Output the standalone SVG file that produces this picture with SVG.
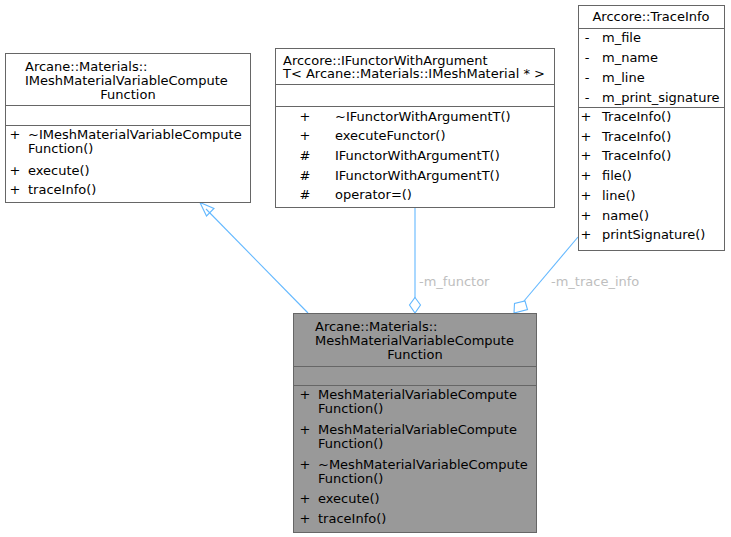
<svg xmlns="http://www.w3.org/2000/svg" width="731" height="537" viewBox="0 0 731 537">
<style>
text{font-family:"DejaVu Sans","Liberation Sans",sans-serif;font-size:13px;fill:#000}
.box{fill:#fff;stroke:#666;stroke-width:1}
.main{fill:#999;stroke:#666;stroke-width:1}
.div{stroke:#666;stroke-width:1}
.c{text-anchor:middle}
.edge{fill:none;stroke:#63b8ff;stroke-width:1.1}
.lbl{fill:#bebebe}
</style>
<rect width="731" height="537" fill="#fff"/>
<g id="connectors">
<path class="edge" d="M308,313 L206,209"/>
<polygon class="edge" points="200,202.5 214,208.5 206.5,216"/>
<path class="edge" d="M415,208 L415,298"/>
<polygon class="edge" points="415,297.5 420.5,305 415,313 409.5,305"/>
<text class="lbl" x="419" y="285.5">-m_functor</text>
<path class="edge" d="M578,237 L524,301"/>
<polygon class="edge" points="514,313 514.5,303.5 525,301 527.5,309.5"/>
<text class="lbl" x="551" y="285.5">-m_trace_info</text>
</g>
<g id="node_IMeshMaterialVariableComputeFunction">
<rect class="box" x="5.5" y="53.5" width="245" height="149"/>
<text x="25" y="70.5">Arcane::Materials::</text>
<text x="25" y="84.5">IMeshMaterialVariableCompute</text>
<text class="c" x="128" y="98.5">Function</text>
<line class="div" x1="5.5" y1="105.5" x2="250.5" y2="105.5"/>
<line class="div" x1="5.5" y1="125.5" x2="250.5" y2="125.5"/>
<text class="c" x="15" y="138.5">+</text><text x="28" y="138.5">~IMeshMaterialVariableCompute</text>
<text x="28" y="152.5">Function()</text>
<text class="c" x="15" y="174.5">+</text><text x="28" y="174.5">execute()</text>
<text class="c" x="15" y="193.5">+</text><text x="28" y="193.5">traceInfo()</text>
</g>
<g id="node_IFunctorWithArgumentT">
<rect class="box" x="275.5" y="48.5" width="279" height="159"/>
<text x="283" y="64.5">Arccore::IFunctorWithArgument</text>
<text x="283" y="78">T&lt; Arcane::Materials::IMeshMaterial * &gt;</text>
<line class="div" x1="275.5" y1="84.5" x2="554.5" y2="84.5"/>
<line class="div" x1="275.5" y1="106.5" x2="554.5" y2="106.5"/>
<text class="c" x="305" y="120.5">+</text><text x="335" y="120.5">~IFunctorWithArgumentT()</text>
<text class="c" x="305" y="139.5">+</text><text x="335" y="139.5">executeFunctor()</text>
<text class="c" x="305" y="159.5">#</text><text x="335" y="159.5">IFunctorWithArgumentT()</text>
<text class="c" x="305" y="179.5">#</text><text x="335" y="179.5">IFunctorWithArgumentT()</text>
<text class="c" x="305" y="198.5">#</text><text x="335" y="198.5">operator=()</text>
</g>
<g id="node_TraceInfo">
<rect class="box" x="578.5" y="5.5" width="146" height="245"/>
<text class="c" x="651" y="20.5">Arccore::TraceInfo</text>
<line class="div" x1="578.5" y1="28.5" x2="724.5" y2="28.5"/>
<text class="c" x="587" y="41.5">-</text><text x="602" y="41.5">m_file</text>
<text class="c" x="587" y="61.5">-</text><text x="602" y="61.5">m_name</text>
<text class="c" x="587" y="81.5">-</text><text x="602" y="81.5">m_line</text>
<text class="c" x="587" y="101.5">-</text><text x="602" y="101.5">m_print_signature</text>
<line class="div" x1="578.5" y1="107.5" x2="724.5" y2="107.5"/>
<text class="c" x="586" y="121">+</text><text x="602" y="121">TraceInfo()</text>
<text class="c" x="586" y="140.7">+</text><text x="602" y="140.7">TraceInfo()</text>
<text class="c" x="586" y="160.4">+</text><text x="602" y="160.4">TraceInfo()</text>
<text class="c" x="586" y="180.1">+</text><text x="602" y="180.1">file()</text>
<text class="c" x="586" y="199.8">+</text><text x="602" y="199.8">line()</text>
<text class="c" x="586" y="219.5">+</text><text x="602" y="219.5">name()</text>
<text class="c" x="586" y="239.2">+</text><text x="602" y="239.2">printSignature()</text>
</g>
<g id="node_MeshMaterialVariableComputeFunction">
<rect class="main" x="293.5" y="313.5" width="243" height="219"/>
<text x="315" y="330.5">Arcane::Materials::</text>
<text x="315" y="344.5">MeshMaterialVariableCompute</text>
<text class="c" x="415" y="358.5">Function</text>
<line class="div" x1="293.5" y1="366.5" x2="536.5" y2="366.5"/>
<line class="div" x1="293.5" y1="385.5" x2="536.5" y2="385.5"/>
<text class="c" x="305" y="398.5">+</text><text x="318" y="398.5">MeshMaterialVariableCompute</text>
<text x="318" y="412.5">Function()</text>
<text class="c" x="305" y="433.5">+</text><text x="318" y="433.5">MeshMaterialVariableCompute</text>
<text x="318" y="447.5">Function()</text>
<text class="c" x="305" y="468.5">+</text><text x="318" y="468.5">~MeshMaterialVariableCompute</text>
<text x="318" y="482.5">Function()</text>
<text class="c" x="305" y="502.5">+</text><text x="318" y="502.5">execute()</text>
<text class="c" x="305" y="522.5">+</text><text x="318" y="522.5">traceInfo()</text>
</g>
</svg>
